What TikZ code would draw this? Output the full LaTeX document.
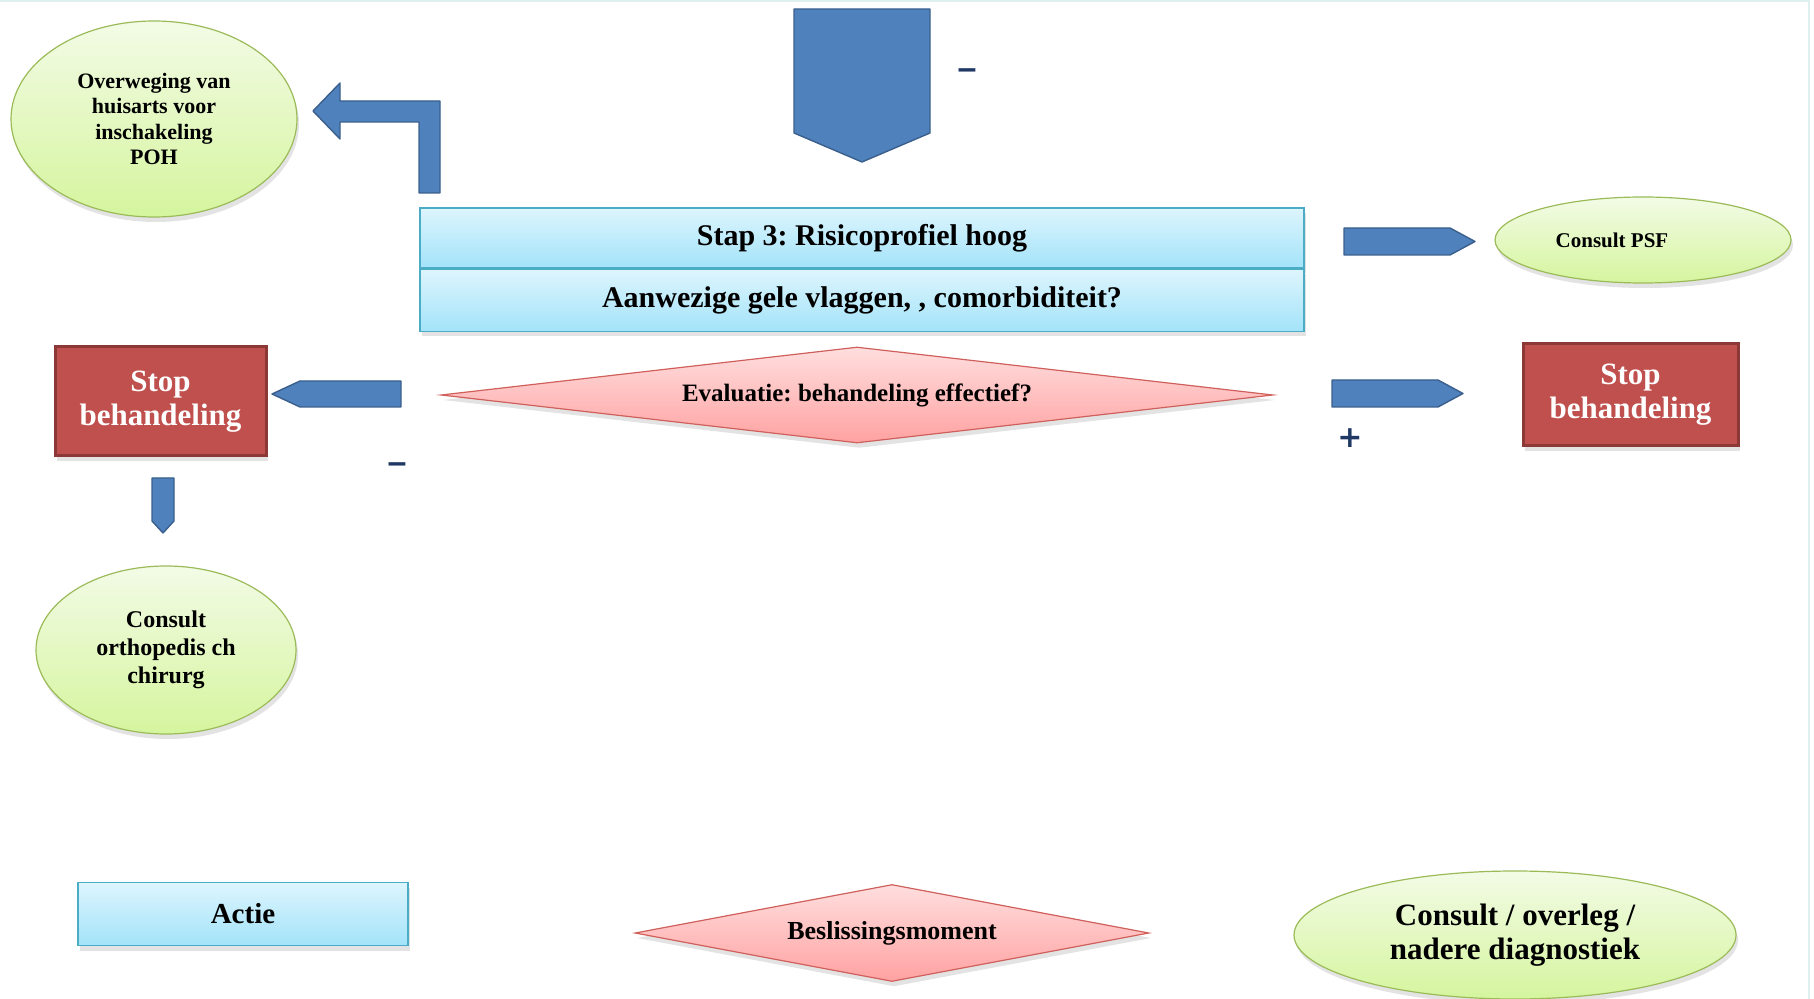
\documentclass[tikz,border=0pt]{standalone}
\usepackage{fontspec}
\setmainfont{Liberation Serif}
\newfontfamily\signfont{DejaVu Sans}
\newfontfamily\dashfont{Liberation Sans}
\frenchspacing
\usetikzlibrary{shapes.geometric,shadows,positioning}

\definecolor{arrowblue}{HTML}{4F81BD}
\definecolor{arrowedge}{HTML}{3A5F8C}
\definecolor{greentop}{HTML}{F3FBE6}
\definecolor{greenbot}{HTML}{D5F59E}
\definecolor{greenedge}{HTML}{9BBB59}
\definecolor{cyantop}{HTML}{DDF5FD}
\definecolor{cyanbot}{HTML}{A3E3F9}
\definecolor{cyanedge}{HTML}{4BACC6}
\definecolor{pinktop}{HTML}{FFDEDE}
\definecolor{pinkbot}{HTML}{FFA2A2}
\definecolor{pinkedge}{HTML}{D0605C}
\definecolor{stopred}{HTML}{C0504D}
\definecolor{stopedge}{HTML}{8C3836}
\definecolor{signcol}{HTML}{1F3864}
\definecolor{framecol}{HTML}{DDEFEE}

\tikzset{
    softshadow/.style={drop shadow={shadow xshift=1pt, shadow yshift=-2.5pt, opacity=0.22}},
    consult/.style={ellipse, draw=greenedge, line width=0.6pt, top color=greentop,
        bottom color=greenbot, align=center, inner sep=0pt, softshadow},
    actie/.style={rectangle, draw=cyanedge, line width=0.7pt, top color=cyantop,
        bottom color=cyanbot, inner sep=0pt, softshadow},
    beslis/.style={diamond, draw=pinkedge, line width=0.6pt, top color=pinktop,
        bottom color=pinkbot, inner sep=0pt, softshadow},
    stopbox/.style={rectangle, draw=stopedge, line width=1.5pt, fill=stopred,
        text=white, align=center, inner sep=0pt, softshadow,
        font=\bfseries\fontsize{15.5}{17}\selectfont},
    blockarrow/.style={fill=arrowblue, draw=arrowedge, line width=0.7pt, line join=round},
    minsign/.style={text=signcol, inner sep=0pt, anchor=base,
        font=\dashfont\bfseries\fontsize{17}{17}\selectfont},
    plussign/.style={text=signcol, inner sep=0pt, anchor=base,
        font=\signfont\bfseries\fontsize{15}{15}\selectfont}
}

\begin{document}
\begin{tikzpicture}[x=0.5pt, y=-0.5pt]
    \useasboundingbox (0,0) rectangle (1814,999);
    % thin frame top and right
    \draw[framecol, line width=0.8pt] (0,1) -- (1809,1) -- (1809,999);

    % step 3 boxes
    \node[actie, minimum width=442pt, minimum height=30pt,
        font=\bfseries\fontsize{15}{15}\selectfont] (stap) at (862,238)
        {Stap 3: Risicoprofiel hoog};
    \node[actie, minimum width=442pt, minimum height=31pt, below=0pt of stap,
        font=\bfseries\fontsize{15}{15}\selectfont] (aanwezig)
        {Aanwezige gele vlaggen, , comorbiditeit?};

    % evaluation
    \node[beslis, aspect=8.7, minimum width=416pt, minimum height=48pt,
        font=\bfseries\fontsize{12.5}{12.5}\selectfont] (evaluatie) at (857,395)
        {Evaluatie: behandeling effectief?};

    % outcomes
    \node[consult, minimum width=143pt, minimum height=98pt,
        font=\bfseries\fontsize{11}{12.7}\selectfont] (overweging) at (154,119)
        {Overweging van\\huisarts voor\\inschakeling\\POH};
    \node[consult, minimum width=148pt, minimum height=43pt,
        font=\bfseries\fontsize{10.5}{12}\selectfont] (psf) at (1643,240)
        {Consult PSF\hspace*{31pt}};
    \node[stopbox, minimum width=105.5pt, minimum height=54.5pt] (stopleft)
        at (160.5,401.5) {Stop\\behandeling};
    \node[stopbox, minimum width=107.5pt, minimum height=51pt] (stopright)
        at (1630.5,395) {Stop\\behandeling};
    \node[consult, minimum width=130pt, minimum height=84pt,
        font=\bfseries\fontsize{12}{14}\selectfont] (ortho) at (166,650)
        {Consult\\orthopedis ch\\chirurg};

    % block arrows
    \draw[blockarrow] (794,9) -- (930,9) -- (930,133) -- (862,162) -- (794,133) -- cycle;
    \draw[blockarrow] (440,193) -- (440,101) -- (340,101) -- (340,83) -- (313,111)
        -- (340,139) -- (340,122) -- (419,122) -- (419,193) -- cycle;
    \foreach \x/\y in {1344/228, 1332/380}
        \draw[blockarrow, shift={(\x,\y)}] (0,0) -- (106,0) -- (131,13.5)
            -- (106,27) -- (0,27) -- cycle;
    \draw[blockarrow, shift={(401,381)}] (0,0) -- (-101,0) -- (-129,13)
        -- (-101,26) -- (0,26) -- cycle;
    \draw[blockarrow, shift={(152,478)}] (0,0) -- (22,0) -- (22,43) -- (11,55)
        -- (0,43) -- cycle;

    % signs
    \node[minsign] (mintop) at (967,80) {–};
    \node[minsign] (minleft) at (397,474) {–};
    \node[plussign] (plusright) at (1350,448) {+};

    % legend
    \node[actie, minimum width=165pt, minimum height=31.5pt,
        font=\bfseries\fontsize{14.5}{14.5}\selectfont] (actie) at (243,914) {Actie};
    \node[beslis, aspect=5.3, minimum width=257pt, minimum height=48.5pt,
        font=\bfseries\fontsize{13}{13}\selectfont] (beslis) at (892,933)
        {Beslissingsmoment};
    \node[consult, minimum width=221pt, minimum height=64pt,
        font=\bfseries\fontsize{15.5}{17}\selectfont] (overleg) at (1515,935)
        {Consult / overleg /\\nadere diagnostiek};
\end{tikzpicture}
\end{document}
